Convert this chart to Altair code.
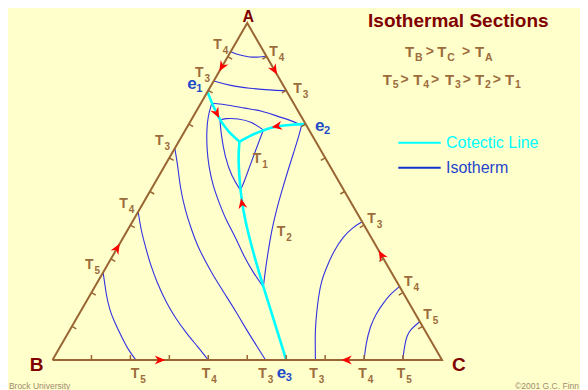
import altair as alt
import numpy as np
import pandas as pd

# ---------------- data: ternary compositions (a = fraction A, c = fraction C) ----------------
# cotectic lines (e1 -> E, E -> e2, E -> e3)
cot_e1_a = [0.796, 0.762, 0.732, 0.712, 0.677, 0.648]
cot_e1_c = [0.000, 0.028, 0.056, 0.074, 0.113, 0.156]
cot_e2_a = [0.648, 0.668, 0.6825, 0.6935, 0.699, 0.700]
cot_e2_c = [0.156, 0.178, 0.200, 0.229, 0.265, 0.300]
cot_e3_a = [0.648, 0.613, 0.574, 0.524, 0.475, 0.415, 0.356, 0.288, 0.217, 0.134, 0.000]
cot_e3_c = [0.156, 0.171, 0.191, 0.219, 0.248, 0.287, 0.329, 0.379, 0.433, 0.497, 0.600]

# isotherms
t4A_a = [0.915, 0.905, 0.898, 0.899, 0.902]
t4A_c = [0.000, 0.025, 0.058, 0.083, 0.098]
t3A_a = [0.828, 0.814, 0.806, 0.801, 0.799]
t3A_c = [0.000, 0.049, 0.104, 0.158, 0.201]
t2A_a = [0.762, 0.757, 0.747, 0.740, 0.722, 0.714, 0.697]
t2A_c = [0.028, 0.073, 0.121, 0.167, 0.219, 0.248, 0.291]
t1A_a = [0.712, 0.717, 0.717, 0.707, 0.6825]
t1A_c = [0.074, 0.084, 0.118, 0.158, 0.200]
t1B_a = [0.712, 0.673, 0.603, 0.544, 0.504]
t1B_c = [0.074, 0.096, 0.141, 0.188, 0.2305]
t1C_a = [0.6825, 0.643, 0.608, 0.570, 0.528, 0.504]
t1C_c = [0.200, 0.207, 0.213, 0.220, 0.228, 0.2305]
t2B_a = [0.762, 0.724, 0.677, 0.623, 0.573, 0.519, 0.466, 0.415, 0.362, 0.309, 0.261, 0.2166]
t2B_c = [0.028, 0.037, 0.057, 0.085, 0.115, 0.152, 0.195, 0.238, 0.290, 0.336, 0.384, 0.433]
t2C_a = [0.697, 0.662, 0.617, 0.564, 0.505, 0.439, 0.380, 0.321, 0.267, 0.2166]
t2C_c = [0.291, 0.301, 0.311, 0.323, 0.337, 0.354, 0.372, 0.393, 0.413, 0.433]
t3B_a = [0.628, 0.579, 0.513, 0.445, 0.386, 0.335, 0.287, 0.237, 0.188, 0.140, 0.089, 0.045, 0.000]
t3B_c = [0.000, 0.032, 0.071, 0.118, 0.164, 0.206, 0.252, 0.301, 0.353, 0.403, 0.454, 0.500, 0.547]
t4B_a = [0.440, 0.386, 0.326, 0.287, 0.229, 0.168, 0.122, 0.079, 0.042, 0.000]
t4B_c = [0.000, 0.034, 0.078, 0.107, 0.154, 0.209, 0.256, 0.305, 0.350, 0.400]
t5B_a = [0.260, 0.223, 0.188, 0.151, 0.119, 0.059, 0.028, 0.000]
t5B_c = [0.000, 0.023, 0.045, 0.071, 0.097, 0.152, 0.182, 0.214]
t3C_a = [0.410, 0.392, 0.366, 0.326, 0.277, 0.234, 0.188, 0.140, 0.089, 0.045, 0.000]
t3C_c = [0.590, 0.573, 0.564, 0.560, 0.566, 0.573, 0.589, 0.608, 0.630, 0.652, 0.675]
t4C_a = [0.218, 0.194, 0.168, 0.137, 0.099, 0.050, 0.000]
t4C_c = [0.782, 0.769, 0.765, 0.762, 0.766, 0.780, 0.800]
t5C_a = [0.114, 0.089, 0.071, 0.050, 0.000]
t5C_c = [0.886, 0.873, 0.8745, 0.880, 0.899]

# crystallisation-path arrows: composition and direction (deg, clockwise on screen)
arrow_a = [0.870, 0.8605, 0.3315, 0.000, 0.000, 0.3116, 0.732, 0.6935, 0.465]
arrow_c = [0.000, 0.1395, 0.000, 0.276, 0.755, 0.6884, 0.0556, 0.2289, 0.254]
arrow_dir = [120, 60, 300, 0, 180, 240, 63, 169, 260]

# temperature labels on the diagram (subscript, x, y in diagram units)
t_sub = ["4", "4", "3", "3", "1", "2", "3", "4", "5", "5", "4", "3", "3", "4", "5", "3", "4", "5"]
t_x = [0.4128, 0.5566, 0.3659, 0.6182, 0.5140, 0.5756, 0.2632, 0.1715, 0.0834,
       0.2008, 0.3831, 0.5284, 0.6593, 0.7851, 0.8837, 0.8082, 0.9024, 0.9520]
t_y = [0.9347, 0.9139, 0.8508, 0.8050, 0.5964, 0.3798, 0.6490, 0.4629, 0.2810,
       -0.0415, -0.0415, -0.0415, -0.0415, -0.0415, -0.0415, 0.4184, 0.2315, 0.1326]
e_sub = ["1", "2", "3"]
e_x = [0.3461, 0.6739, 0.5756]
e_y = [0.8169, 0.6914, -0.0424]

# header texts
h1_sub = ["B", "C", "A"]
h1_x = [0.9050, 0.9879, 1.0847]
h1_gt_x = [0.9580, 1.0515]
h2_sub = ["5", "4", "3", "2", "1"]
h2_x = [0.8477, 0.9263, 1.0077, 1.0847, 1.1617]
h2_gt_x = [0.8935, 0.9720, 1.0530, 1.1300]
h1_y = 0.9139
h2_y = 0.8323

# ---------------- build tables ----------------
def curve_rows(name, a_list, c_list):
    return [{"curve": name, "i": i, "X": c + a / 2.0, "Y": a}
            for i, (a, c) in enumerate(zip(a_list, c_list))]

cot_rows = []
for nm, (al, cl) in {"e1": (cot_e1_a, cot_e1_c), "e2": (cot_e2_a, cot_e2_c),
                     "e3": (cot_e3_a, cot_e3_c)}.items():
    cot_rows += curve_rows(nm, al, cl)
cot_df = pd.DataFrame(cot_rows)

iso_rows = []
for nm, (al, cl) in {"T4A": (t4A_a, t4A_c), "T3A": (t3A_a, t3A_c), "T2A": (t2A_a, t2A_c),
                     "T1A": (t1A_a, t1A_c), "T1B": (t1B_a, t1B_c), "T1C": (t1C_a, t1C_c),
                     "T2B": (t2B_a, t2B_c), "T2C": (t2C_a, t2C_c), "T3B": (t3B_a, t3B_c),
                     "T4B": (t4B_a, t4B_c), "T5B": (t5B_a, t5B_c), "T3C": (t3C_a, t3C_c),
                     "T4C": (t4C_a, t4C_c), "T5C": (t5C_a, t5C_c)}.items():
    iso_rows += curve_rows(nm, al, cl)
iso_df = pd.DataFrame(iso_rows)

edge_df = pd.DataFrame(curve_rows("edge", [0, 0, 1, 0], [0, 1, 0, 0]))

# ticks every 10 % on each edge, pointing inwards
PX_X = 1 / 389.5   # diagram units per pixel (x)
PX_Y = 1 / 337.0   # diagram units per pixel (y)
L = 5.0
fr = np.arange(1, 10) / 10.0
tick_rows = []
for f in fr:
    tick_rows.append({"X": f, "Y": 0.0, "X2": f, "Y2": L * PX_Y})
    tick_rows.append({"X": f / 2, "Y": f, "X2": f / 2 + 0.866 * L * PX_X, "Y2": f - 0.5 * L * PX_Y})
    tick_rows.append({"X": 1 - f / 2, "Y": f, "X2": 1 - f / 2 - 0.866 * L * PX_X, "Y2": f - 0.5 * L * PX_Y})
tick_df = pd.DataFrame(tick_rows)

arrow_df = pd.DataFrame({"X": [c + a / 2 for a, c in zip(arrow_a, arrow_c)],
                         "Y": arrow_a, "ang": arrow_dir})

tlab_df = pd.DataFrame({"t": "T", "sub": t_sub, "X": t_x, "Y": t_y})
elab_df = pd.DataFrame({"t": "e", "sub": e_sub, "X": e_x, "Y": e_y})
h_df = pd.DataFrame({"t": "T", "sub": h1_sub + h2_sub,
                     "X": h1_x + h2_x, "Y": [h1_y] * 3 + [h2_y] * 5})
gt_df = pd.DataFrame({"t": ">", "X": h1_gt_x + h2_gt_x, "Y": [h1_y] * 2 + [h2_y] * 4})

vert_df = pd.DataFrame({"t": ["A", "B", "C"], "X": [0.5027, -0.0406, 1.0431],
                        "Y": [1.0178, -0.0134, -0.0163], "fs": [16, 19, 19]})
title_df = pd.DataFrame({"t": ["Isothermal Sections"], "X": [1.0419], "Y": [1.0068]})
leg_line_df = pd.DataFrame({"X": [0.8878, 0.8878], "X2": [0.9967, 0.9967],
                            "Y": [0.6448, 0.5706], "col": ["#00FFFF", "#1133CC"]})
leg_txt_df = pd.DataFrame({"t": ["Cotectic Line", "Isotherm"], "X": [1.0103, 1.0103],
                           "Y": [0.6448, 0.5706], "col": ["#00FFFF", "#1F44CC"]})
foot_df = pd.DataFrame({"t": ["Brock University", "\u00a92001 G.C. Finn"],
                        "X": [-0.1120, 1.3517], "Y": [-0.0760, -0.0760]})

# ---------------- scales ----------------
xs = alt.Scale(domain=[-0.11425, 1.35430], nice=False, zero=False)
ys = alt.Scale(domain=[-0.08902, 1.04451], nice=False, zero=False)
X = alt.X("X:Q", scale=xs, axis=None)
Y = alt.Y("Y:Q", scale=ys, axis=None)

FONT = "Liberation Sans"
BROWN = "#996633"
TXT_BROWN = "#9C6C3C"
DARKRED = "#800000"
BLUE_LAB = "#1E4BC8"

iso = alt.Chart(iso_df).mark_line(color="#3232E0", strokeWidth=1.1,
                                  interpolate="basis").encode(
    x=X, y=Y, detail="curve:N", order="i:Q")
cot = alt.Chart(cot_df).mark_line(color="#00FFFF", strokeWidth=2.6,
                                  interpolate="basis").encode(
    x=X, y=Y, detail="curve:N", order="i:Q")
edges = alt.Chart(edge_df).mark_line(color=BROWN, strokeWidth=2).encode(
    x=X, y=Y, order="i:Q")
ticks = alt.Chart(tick_df).mark_rule(color=BROWN, strokeWidth=1.5).encode(
    x=X, y=Y, x2="X2:Q", y2="Y2:Q")
arrows = alt.Chart(arrow_df).mark_point(
    shape="M 1 0 L -1 -0.85 L -0.4 0 L -1 0.85 Z", filled=True, color="#FF0000",
    opacity=1, size=110, strokeWidth=0).encode(
    x=X, y=Y, angle=alt.Angle("ang:Q", scale=None))

t_main = alt.Chart(tlab_df).mark_text(align="left", baseline="middle", font=FONT,
                                      fontWeight="bold", fontSize=14, color=TXT_BROWN).encode(
    x=X, y=Y, text="t:N")
t_subm = alt.Chart(tlab_df).mark_text(align="left", baseline="middle", font=FONT,
                                      fontWeight="bold", fontSize=10, color=TXT_BROWN,
                                      dx=9.5, dy=6).encode(x=X, y=Y, text="sub:N")
e_main = alt.Chart(elab_df).mark_text(align="left", baseline="middle", font=FONT,
                                      fontWeight="bold", fontSize=17, color=BLUE_LAB,
                                      dy=-1).encode(x=X, y=Y, text="t:N")
e_subm = alt.Chart(elab_df).mark_text(align="left", baseline="middle", font=FONT,
                                      fontWeight="bold", fontSize=11, color=BLUE_LAB,
                                      dx=9, dy=4).encode(x=X, y=Y, text="sub:N")
h_main = alt.Chart(h_df).mark_text(align="left", baseline="middle", font=FONT,
                                   fontWeight="bold", fontSize=15, color=TXT_BROWN).encode(
    x=X, y=Y, text="t:N")
h_subm = alt.Chart(h_df).mark_text(align="left", baseline="middle", font=FONT,
                                   fontWeight="bold", fontSize=10.5, color=TXT_BROWN,
                                   dx=10, dy=5.5).encode(x=X, y=Y, text="sub:N")
h_gt = alt.Chart(gt_df).mark_text(align="left", baseline="middle", font=FONT,
                                  fontWeight="bold", fontSize=14, color=TXT_BROWN).encode(
    x=X, y=Y, text="t:N")
verts = alt.Chart(vert_df).mark_text(align="center", baseline="middle", font=FONT,
                                     fontWeight="bold", color=DARKRED).encode(
    x=X, y=Y, text="t:N", size=alt.Size("fs:Q", scale=None, legend=None))
title = alt.Chart(title_df).mark_text(align="center", baseline="middle", font=FONT,
                                      fontWeight="bold", fontSize=19, color=DARKRED).encode(
    x=X, y=Y, text="t:N")
leg_lines = alt.Chart(leg_line_df).mark_rule(strokeWidth=2).encode(
    x=X, y=Y, x2="X2:Q", color=alt.Color("col:N", scale=None))
leg_txt = alt.Chart(leg_txt_df).mark_text(align="left", baseline="middle", font=FONT,
                                          fontSize=16).encode(
    x=X, y=Y, text="t:N", color=alt.Color("col:N", scale=None))
foot_l = alt.Chart(foot_df.iloc[[0]]).mark_text(align="left", baseline="middle", font=FONT,
                                                fontSize=8.5, color="#A08C6E").encode(
    x=X, y=Y, text="t:N")
foot_r = alt.Chart(foot_df.iloc[[1]]).mark_text(align="right", baseline="middle", font=FONT,
                                                fontSize=8.5, color="#A08C6E").encode(
    x=X, y=Y, text="t:N")

chart = alt.layer(
    iso, cot, edges, ticks, arrows,
    t_main, t_subm, e_main, e_subm, h_main, h_subm, h_gt,
    verts, title, leg_lines, leg_txt, foot_l, foot_r
).properties(
    width=572, height=382, background="#FFFFCC", padding=0, autosize="none"
).configure_view(stroke=None)

chart.save("out.html", embed_options={"renderer": "svg", "actions": False})
